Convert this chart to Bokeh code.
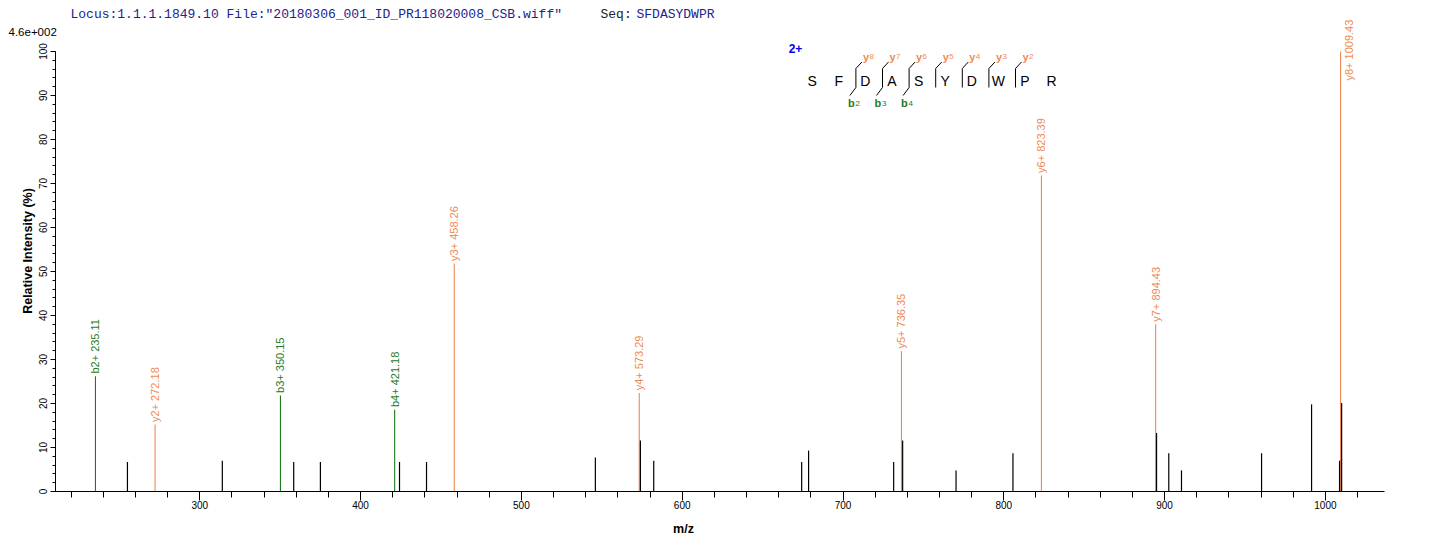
import numpy as np
from bokeh.plotting import figure
from bokeh.models import Range1d, SingleIntervalTicker, Label
from bokeh.core.properties import value
from bokeh.embed import file_html
from bokeh.resources import INLINE

# ---------------- data ----------------
title_locus = 'Locus:1.1.1.1849.10 File:"20180306_001_ID_PR118020008_CSB.wiff"'
title_seq_label = "Seq:"
peptide = "SFDASYDWPR"
precursor_charge = "2+"
max_intensity_label = "4.6e+002"
x_axis_title = "m/z"
y_axis_title = "Relative   Intensity (%)"

b_ions = ["b2+", "b3+", "b4+"]
b_mz = [235.11, 350.15, 421.18]
b_int = [26.2, 21.8, 18.6]

y_ions = ["y2+", "y3+", "y4+", "y5+", "y6+", "y7+", "y8+"]
y_mz = [272.18, 458.26, 573.29, 736.35, 823.39, 894.43, 1009.43]
y_int = [15.2, 51.8, 22.4, 31.9, 71.8, 38.0, 100.0]

other_mz = [255.0, 314.0, 358.4, 375.0, 424.2, 441.0, 546.0, 574.0, 582.3,
            674.3, 678.6, 731.5, 737.1, 770.3, 805.7, 895.0, 902.6, 910.5,
            960.3, 991.4, 1008.8, 1010.1]
other_int = [6.7, 7.0, 6.7, 6.7, 6.7, 6.7, 7.7, 11.6, 7.0,
             6.7, 9.3, 6.7, 11.6, 4.8, 8.7, 13.3, 8.7, 4.8,
             8.7, 19.8, 7.0, 20.1]

# cleavage sites in the peptide annotation (index of the following residue)
y_sites = [2, 3, 4, 5, 6, 7, 8]
b_sites = [2, 3, 4]

# ---------------- layout ----------------
W, H = 1436, 551
AX_LEFT, AX_RIGHT, BASE = 55, 1384, 491   # page pixels of the axes
PX_PER_MZ = 1.608
PX_PER_PCT = 4.4
X_AX0 = 300 - (199.3 - AX_LEFT) / PX_PER_MZ

def rx(px):  # page pixel -> data x
    return X_AX0 + (px - AX_LEFT) / PX_PER_MZ

def ry(py):  # page pixel -> data y
    return (BASE - py) / PX_PER_PCT

GREEN = "#1f7a1f"
ORANGE = "#ee8a55"
BLUE_T = "#23238f"
FONT = "Liberation Sans"
MONO = "Liberation Mono"

p = figure(width=W, height=H, output_backend="svg", toolbar_location=None,
           title=None, x_range=Range1d(rx(0), rx(W)), y_range=Range1d(ry(H), ry(0)),
           min_border_left=0, min_border_right=0, min_border_top=0,
           min_border_bottom=0)
p.outline_line_color = None
p.xgrid.visible = False
p.ygrid.visible = False
p.background_fill_color = "white"
p.border_fill_color = "white"

# axes (drawn at fixed data locations inside the full-canvas frame)
p.xaxis.ticker = SingleIntervalTicker(interval=100, num_minor_ticks=5)
p.yaxis.ticker = SingleIntervalTicker(interval=10, num_minor_ticks=5)
p.xaxis.bounds = (X_AX0, rx(AX_RIGHT))
p.yaxis.bounds = (0, 100)
p.xaxis.fixed_location = 0
p.yaxis.fixed_location = X_AX0
for ax in (p.xaxis[0], p.yaxis[0]):
    ax.axis_line_color = "black"
    ax.major_tick_line_color = "black"
    ax.minor_tick_line_color = "black"
    ax.major_tick_in = 0
    ax.minor_tick_in = 0
    ax.major_label_text_font = FONT
    ax.major_label_text_font_size = "10px"
    ax.major_label_text_color = "black"
p.xaxis.major_tick_out = 9
p.xaxis.minor_tick_out = 6
p.xaxis.major_label_standoff = 0
p.yaxis.major_tick_out = 5
p.yaxis.minor_tick_out = 3
p.yaxis.major_label_standoff = 4
p.yaxis.major_label_orientation = "vertical"

# peaks
p.segment(x0=b_mz, y0=0, x1=b_mz, y1=b_int, line_color=GREEN, line_width=1.1)
p.segment(x0=y_mz, y0=0, x1=y_mz, y1=y_int, line_color=ORANGE, line_width=1.1)
p.segment(x0=other_mz, y0=0, x1=other_mz, y1=other_int, line_color="black", line_width=1.2)

# peak labels: above the peak, or beside it when there is no room above
LAB_PAD = 0.6
LAB_CAP = ry(80)
def label_pos(mz, it):
    xs, ys = [], []
    for m, v in zip(mz, it):
        if v + LAB_PAD > LAB_CAP:
            xs.append(m + 8 / PX_PER_MZ)
            ys.append(LAB_CAP)
        else:
            xs.append(m)
            ys.append(v + LAB_PAD)
    return xs, ys

b_text = [f"{n} {m:.2f}" for n, m in zip(b_ions, b_mz)]
y_text = [f"{n} {m:.2f}" for n, m in zip(y_ions, y_mz)]
bx_l, by_l = label_pos(b_mz, b_int)
yx_l, yy_l = label_pos(y_mz, y_int)
p.text(x=bx_l, y=by_l, text=b_text, angle=np.pi / 2,
       text_align="left", text_baseline="middle", text_color=GREEN,
       text_font=value(FONT), text_font_size="11px")
p.text(x=yx_l, y=yy_l, text=y_text, angle=np.pi / 2,
       text_align="left", text_baseline="middle", text_color=ORANGE,
       text_font=value(FONT), text_font_size="11px")

# peptide annotation
SEQ_X0, SEQ_STEP = 811.7, 26.6
letters_x = [rx(SEQ_X0 + i * SEQ_STEP) for i in range(len(peptide))]
p.text(x=letters_x, y=ry(80), text=list(peptide), text_align="center",
       text_baseline="middle", text_color="black", text_font=value(FONT),
       text_font_size="14px")
p.text(x=[rx(795)], y=[ry(48)], text=[precursor_charge], text_align="center",
       text_baseline="middle", text_color="#0000ee", text_font=value(FONT),
       text_font_size="12px", text_font_style="bold")

vx = [SEQ_X0 + k * SEQ_STEP - 9.5 for k in y_sites]
p.segment(x0=[rx(v) for v in vx], y0=ry(68), x1=[rx(v) for v in vx], y1=ry(87),
          line_color="black", line_width=1)
p.segment(x0=[rx(v) for v in vx], y0=ry(68), x1=[rx(v + 6) for v in vx], y1=ry(61.5),
          line_color="black", line_width=1)
p.text(x=[rx(v + 7) for v in vx], y=ry(56), text=["y"] * len(vx), text_align="left",
       text_baseline="middle", text_color=ORANGE, text_font=value(FONT),
       text_font_size="11px", text_font_style="bold")
p.text(x=[rx(v + 13.5) for v in vx], y=ry(55.5), text=[str(len(peptide) - k) for k in y_sites],
       text_align="left", text_baseline="middle", text_color=ORANGE,
       text_font=value(FONT), text_font_size="8px")

bx = [SEQ_X0 + k * SEQ_STEP - 9.5 for k in b_sites]
p.segment(x0=[rx(v) for v in bx], y0=ry(87), x1=[rx(v - 6) for v in bx], y1=ry(95),
          line_color="black", line_width=1)
p.text(x=[rx(v - 8) for v in bx], y=ry(102), text=["b"] * len(bx), text_align="left",
       text_baseline="middle", text_color=GREEN, text_font=value(FONT),
       text_font_size="11px", text_font_style="bold")
p.text(x=[rx(v - 0.5) for v in bx], y=ry(102.5), text=[str(k) for k in b_sites],
       text_align="left", text_baseline="middle", text_color=GREEN,
       text_font=value(FONT), text_font_size="8px")

# title and other texts
def dlabel(px, py, text, **kw):
    p.add_layout(Label(x=rx(px), y=ry(py), text=text, text_baseline="middle", **kw))

dlabel(70, 14, title_locus, text_align="left", text_color=BLUE_T,
       text_font=MONO, text_font_size="13px")
dlabel(600, 14, title_seq_label, text_align="left", text_color="#222222",
       text_font=MONO, text_font_size="13px")
dlabel(636, 14, peptide, text_align="left", text_color=BLUE_T,
       text_font=MONO, text_font_size="13px")
dlabel(8, 31, max_intensity_label, text_align="left", text_color="black",
       text_font=FONT, text_font_size="11.5px")
dlabel(683, 528, x_axis_title, text_align="center", text_color="black",
       text_font=FONT, text_font_size="12.5px", text_font_style="bold")
dlabel(27, 247, y_axis_title, text_align="center", text_color="black",
       text_font=FONT, text_font_size="12.5px", text_font_style="bold",
       angle=np.pi / 2)

open("out.html", "w").write(file_html(p, INLINE))
